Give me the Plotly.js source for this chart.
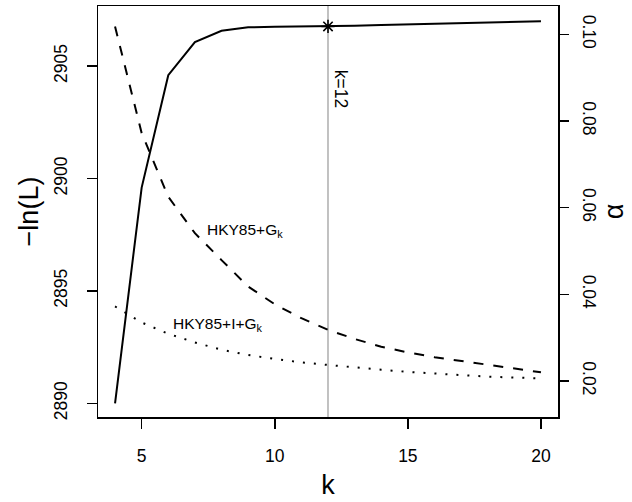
<!DOCTYPE html>
<html>
<head>
<meta charset="utf-8">
<script src="https://cdn.plot.ly/plotly-3.0.1.min.js"></script>
<style>
  body { margin: 0; background: #fff; }
  #chart { width: 632px; height: 502px; }
</style>
</head>
<body>
<div id="chart"></div>
<script>
// number of gamma categories
const k = [4, 5, 6, 7, 8, 9, 10, 11, 12, 13, 14, 15, 16, 17, 18, 19, 20];

// -ln(L), left axis
const negLnL = [2890.0, 2899.6, 2904.6, 2906.07, 2906.58, 2906.73, 2906.76, 2906.77, 2906.77,
                2906.8, 2906.83, 2906.86, 2906.88, 2906.91, 2906.94, 2906.97, 2907.0];

// alpha estimates, right axis
const alphaG = [0.1018, 0.0772, 0.0625, 0.0541, 0.0479, 0.0418, 0.0377, 0.0345, 0.0318,
                0.0297, 0.0279, 0.0266, 0.0255, 0.0246, 0.0237, 0.0228, 0.0220];
const alphaIG = [0.0372, 0.0335, 0.0309, 0.0289, 0.0272, 0.0260, 0.0251, 0.0243, 0.0237,
                 0.0231, 0.0226, 0.0221, 0.0217, 0.0213, 0.0210, 0.0208, 0.0206];

const kBest = 12;
const bestIdx = k.indexOf(kBest);

const font = 'Liberation Sans, Arial, sans-serif';

const data = [
  {
    x: k, y: negLnL, type: 'scatter', mode: 'lines',
    line: {color: '#000', width: 2}, yaxis: 'y'
  },
  {
    x: [kBest], y: [negLnL[bestIdx]], type: 'scatter', mode: 'markers',
    marker: {symbol: 'asterisk-open', size: 11, color: '#000', line: {color: '#000', width: 1.6}},
    yaxis: 'y'
  },
  {
    x: k, y: alphaG, type: 'scatter', mode: 'lines',
    line: {color: '#000', width: 2, dash: '10px,10px'}, yaxis: 'y2'
  },
  {
    x: k, y: alphaIG, type: 'scatter', mode: 'lines',
    line: {color: '#000', width: 2, dash: '2px,9px'}, yaxis: 'y2'
  }
];

const layout = {
  width: 632, height: 502,
  margin: {l: 98, r: 74, t: 6, b: 85},
  showlegend: false,
  paper_bgcolor: '#fff', plot_bgcolor: '#fff',
  font: {family: font, color: '#000', size: 14},
  xaxis: {
    range: [3.36, 20.64], tickvals: [5, 10, 15, 20],
    ticks: 'outside', ticklen: 10, tickwidth: 1.5, tickcolor: '#000',
    showline: true, linecolor: '#000', linewidth: 1.5, mirror: true,
    showgrid: false, zeroline: false,
    tickfont: {size: 17.5}, ticklabelstandoff: 12,
    title: {text: 'k', font: {size: 27}, standoff: 10}
  },
  yaxis: {
    range: [2889.39, 2907.68], tickvals: [2890, 2895, 2900, 2905],
    ticks: 'outside', ticklen: 10, tickwidth: 1.5, tickcolor: '#000',
    showline: true, linecolor: '#000', linewidth: 1.5, mirror: true,
    showgrid: false, zeroline: false,
    tickangle: -90, tickfont: {size: 17.5}, ticklabelstandoff: 13,
    title: {text: '\u2212ln(L)', font: {size: 27}, standoff: 4}
  },
  yaxis2: {
    overlaying: 'y', side: 'right',
    range: [0.01169, 0.10653], tickvals: [0.02, 0.04, 0.06, 0.08, 0.10],
    ticktext: ['0.02', '0.04', '0.06', '0.08', '0.10'],
    ticks: 'outside', ticklen: 10, tickwidth: 1.5, tickcolor: '#000',
    showline: false, showgrid: false, zeroline: false,
    tickangle: 90, tickfont: {size: 17.5}, ticklabelstandoff: 7,
    title: {text: '\u03b1', font: {size: 27}, standoff: 5}
  },
  shapes: [{
    type: 'line', xref: 'x', yref: 'paper', x0: kBest, x1: kBest, y0: 0, y1: 1,
    line: {color: '#bbbbbb', width: 1.8}, layer: 'below'
  }],
  annotations: [
    {
      x: kBest, y: 2904.93, xref: 'x', yref: 'y', text: 'k=' + kBest,
      textangle: 90, showarrow: false, xanchor: 'left', yanchor: 'top', xshift: 1,
      font: {size: 17.5}
    },
    {
      x: 8.9, y: 0.0548, xref: 'x', yref: 'y2', text: 'HKY85+G<sub>k</sub>',
      showarrow: false, font: {size: 15.5}
    },
    {
      x: 7.85, y: 0.0331, xref: 'x', yref: 'y2', text: 'HKY85+I+G<sub>k</sub>',
      showarrow: false, font: {size: 15.5}
    }
  ]
};

Plotly.newPlot('chart', data, layout, {displayModeBar: false, staticPlot: true});
</script>
</body>
</html>
